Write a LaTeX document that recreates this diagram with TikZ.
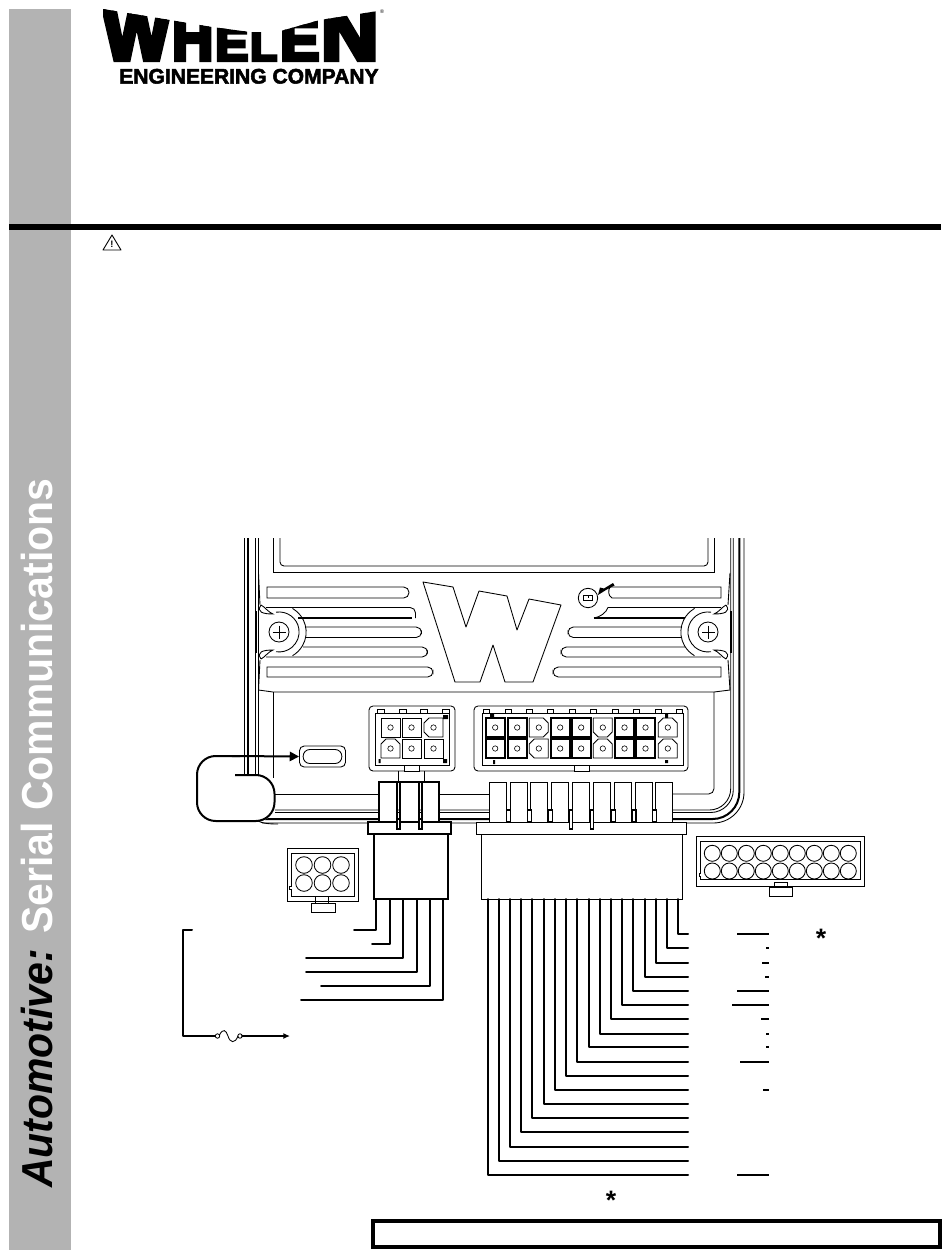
\documentclass[tikz,border=0pt]{standalone}
\usepackage{graphicx}
\usepackage{fontspec}
\usepackage{xcolor}
\usetikzlibrary{arrows.meta}
\newfontfamily\sidefont{Liberation Sans}
\newfontfamily\logofont[FakeBold=7]{Liberation Sans Bold}
\newfontfamily\logosubfont[FakeBold=2.5]{Liberation Sans Bold}
\definecolor{SideGrey}{HTML}{B3B3B3}
\tikzset{
  hair/.style = {line width = .65pt},
  heavy/.style = {line width = 1.5pt},
  lead/.style = {line width = 1.5pt, line cap = round, line join = round},
  logoletter/.style = {anchor = south west, inner sep = 0pt},
  pinhole/.style = {line width = .45pt}
}
\newcommand{\pincell}[7]{%
  \draw[line width = #7]
    (#1+#3,#2) -- (#1+19-#4,#2) -- (#1+19,#2+#4) -- (#1+19,#2+19-#5)
    -- (#1+19-#5,#2+19) -- (#1+#6,#2+19) -- (#1,#2+19-#6) -- (#1,#2+#3) -- cycle;
  \draw[pinhole] (#1+9.5,#2+9.5) circle (2.7);
}
\begin{document}
\begin{tikzpicture}[x = .75pt, y = -.75pt]
  \useasboundingbox (0,0) rectangle (950,1260);

  % side band and rules
  \fill[SideGrey] (9,9) rectangle (71,1250);
  \fill[black] (9,224) rectangle (941,230);
  \node[rotate = 90, anchor = base west, inner sep = 0pt] (sidetitle) at (52,1188)
    {\scalebox{.945}[1]{\sidefont\fontsize{32.5}{32}\selectfont\bfseries
     {\itshape Automotive:} \textcolor{white}{Serial Communications}}};

  % logo
  \begin{scope}
    \clip (103,9) -- (170,20) -- (212,27) -- (250,32) -- (277,32) -- (320,20)
      -- (378,11) -- (378,62) -- (103,62) -- cycle;
    \foreach \ch/\xa/\wa/\ha in {W/103/67/54, H/172/41/44, E/215/33/33, L/250/27/30,
        E/280/39/41, N/321/57/52}
      \node[logoletter] at (\xa,61)
        {\resizebox{\dimexpr\wa pt*3/4\relax}{\dimexpr\ha pt*3/4\relax}{\logofont\ch}};
  \end{scope}
  \node[inner sep = 0pt] (logoreg) at (382,12) {\sidefont\fontsize{4}{4}\selectfont\textregistered};
  \node[logoletter] (logosub) at (119,84)
    {\resizebox{194.5pt}{11pt}{\logosubfont ENGINEERING COMPANY}};

  % caution mark
  \draw[hair, line join = round] (112,235) -- (103,250) -- (121,250) -- cycle;
  \node[inner sep = 0pt] (caution) at (112,244) {\sidefont\bfseries\fontsize{7}{7}\selectfont !};

  % housing walls
  \draw[hair] (244,538) -- (244,775);
  \draw[heavy] (248,538) -- (248,775);
  \draw[hair] (255,538) -- (255,775);
  \draw[hair] (258.5,538) -- (258.5,775);
  \draw[hair] (273,538) -- (273,572) -- (714,572) -- (714,538);
  \draw[hair, rounded corners = 3pt] (280,538) -- (280,566) -- (708,566) -- (708,538);
  \draw[hair] (258.5,573) -- (260,605);
  \draw[hair] (730,573) -- (728,605);
  \draw[hair] (260,660) -- (258.5,690) -- (273,692) -- (714,692) -- (730,690) -- (728,660);
  \draw[hair] (273,692) -- (273,790);
  \draw[hair, rounded corners = 4pt] (714,692) -- (714,794) -- (673,794);
  \draw[hair] (273,794) -- (380,794) (439,794) -- (490,794);

  % lower rails, turning up into the right wall
  \draw[hair, rounded corners = 16pt] (730.7,538) -- (730.7,810) -- (275,810);
  \draw[hair, rounded corners = 17pt] (733.3,538) -- (733.3,812.5) -- (275,812.5);
  \draw[heavy, rounded corners = 20pt] (739.3,538) -- (739.3,819) -- (265,819);
  \draw[hair, rounded corners = 23pt] (744,538) -- (744,823) -- (262,823);

  % fins, left side
  \draw[hair] (267,598) -- (267,587) {[rounded corners = 4pt] -- (409,587) -- (409,598)} -- cycle;
  \draw[hair] (267,677) -- (267,667) {[rounded corners = 4pt] -- (433,667) -- (433,677)} -- cycle;
  \draw[hair, rounded corners = 4pt] (266,607.5) -- (415.5,607.5) -- (415.5,618);
  \draw[heavy] (298,618) -- (412,618);
  \draw[hair, rounded corners = 4pt] (306,627) -- (421.5,627) -- (421.5,637.5) -- (306,637.5);
  \draw[hair, rounded corners = 4pt] (303,647) -- (427.5,647) -- (427.5,657) -- (266,657);

  % fins, right side
  \draw[hair] (721,598) -- (721,587) -- (610,587) .. controls (608,590) and (608,596) .. (612,598) -- cycle;
  \draw[hair] (721,677) -- (721,667) {[rounded corners = 4pt] -- (553,667) -- (553,677)} -- cycle;
  \draw[hair] (721,607.5) -- (608,607.5) .. controls (606,613) and (600,617) .. (594,618);
  \draw[heavy] (594,618) -- (685,618);
  \draw[hair, rounded corners = 4pt] (681,627) -- (568,627) -- (568,637.5) -- (681,637.5);
  \draw[hair, rounded corners = 4pt] (685,647) -- (561,647) -- (561,657) -- (721,657);

  % screw bosses
  \foreach \cx/\sx in {279/1, 708/-1} {
    \begin{scope}[shift = {(\cx,632)}, xscale = \sx]
      \draw[hair] (10,0) arc (0:360:10);
      \draw[hair] (-6.5,0) -- (6.5,0) (0,-6.5) -- (0,6.5);
      \draw[hair] (13.5,-23.6) arc (-60:60:27.3);
      \draw[hair] (-3,-19.8) arc (-99:99:20);
      \draw[hair] (-18,-27) .. controls (-23,-20) and (-16,-18) .. (-6,-18)
        .. controls (-11,-20) and (-14,-25) .. (-18,-27);
      \draw[hair] (-18,27) .. controls (-23,20) and (-16,18) .. (-6,18)
        .. controls (-11,20) and (-14,25) .. (-18,27);
      \draw[heavy] (-23,-21) -- (-23,21);
    \end{scope}
  }

  % W emblem
  \draw[hair, line join = round] (423,582) -- (453,587) -- (466,627) -- (479,591)
    -- (507,596) -- (517,630) -- (529,599) -- (561,605) -- (533,682) -- (505,682)
    -- (493,645) -- (480,682) -- (455,682) -- cycle;

  % polarity mark and its pointer
  \draw[hair] (588,598) circle (9.7);
  \draw[line width = .9pt] (583.5,595.5) rectangle (592.5,600.5);
  \draw[line width = .7pt] (588,595.5) -- (588,598);
  \fill[black] (613,583) -- (614.5,585.5) -- (606,590) -- (598,595) -- (600,587.5) -- (604,588.5) -- cycle;

  % opening in the wall, its callout
  \fill[white, rounded corners = 12pt] (197,756) rectangle (274.5,821);
  \fill[white] (235,775) rectangle (274.5,800);
  \fill[white] (236,738) rectangle (262,775);
  \draw[hair] (244,738) -- (244,775);
  \draw[heavy] (248,738) -- (248,775);
  \draw[hair] (255,738) -- (255,775) (258.5,738) -- (258.5,775);
  \draw[hair] (273,738) -- (273,778);
  \draw[heavy, rounded corners = 14pt] (235,775) -- (274.5,775) -- (274.5,821) -- (197,821) -- (197,756) -- (240,756);
  \draw[hair] (258,821) .. controls (262,823) and (267,824) .. (278,824);
  \node[draw, hair, rounded corners = 3.5pt, minimum width = 34.5pt, minimum height = 15.75pt,
    inner sep = 0pt] (gland) at (322.5,756.5) {};
  \node[draw, hair, rounded corners = 5pt, minimum width = 29pt, minimum height = 10.5pt,
    inner sep = 0pt] (glandin) at (322.5,756.5) {};
  \coordinate (calloutstart) at (232,756);
  \draw[heavy, -{Triangle[length = 7pt, width = 7pt]}] (calloutstart) -- (gland.west);

  % socket, six ways
  \draw[hair, rounded corners = 3pt] (369,706) rectangle (455,771);
  \draw[hair] (375,713) rectangle (449,765);
  \foreach \tabx in {377,399,420,442}
    \draw[hair] (\tabx,713) -- (\tabx,709) -- (\tabx+7,709) -- (\tabx+7,713);
  \draw[hair, fill = white] (404,765) rectangle (419,771);
  \foreach \px/\py/\ta/\tb/\tc/\td in {381/718/0/0/0/0, 402/718/0/0/0/0, 424/718/5/0/0/5,
      381/739/5/5/0/0, 402/739/0/0/0/0, 424/739/0/0/0/0} {
    \pincell{\px}{\py}{\ta}{\tb}{\tc}{\td}{.65pt}
  }
  \fill[black] (443,715) rectangle (448,719) (378.5,759) rectangle (380.5,763) (443,759) rectangle (447,763);

  % socket, eighteen ways
  \draw[hair, rounded corners = 3pt] (474,706) rectangle (688,771);
  \draw[hair] (482,713) rectangle (683,765);
  \foreach \tabx in {483,505,526,547,569,590,612,633,655,676}
    \draw[hair] (\tabx,713) -- (\tabx,709) -- (\tabx+6,709) -- (\tabx+6,713);
  \draw[hair, fill = white] (574,765) rectangle (589,771);
  \foreach \px/\py/\ta/\tb/\tc/\td/\lw in {485.7/718/0/0/0/0/1.5pt, 507.7/718/0/0/0/0/1.5pt,
      529.3/718/0/5/5/0/.65pt, 550.7/718/0/0/0/0/1.5pt, 571.7/718/0/0/0/0/1.5pt,
      593.3/718/0/0/5/5/.65pt, 615/718/0/0/0/0/1.5pt, 636/718/0/0/0/0/1.5pt,
      658.3/718/5/5/0/0/.65pt,
      485.7/739/0/0/0/0/1.5pt, 507.7/739/0/0/0/0/1.5pt, 529.3/739/5/0/0/5/.65pt,
      550.7/739/0/0/0/0/1.5pt, 571.7/739/0/0/0/0/1.5pt, 593.3/739/5/5/0/0/.65pt,
      615/739/0/0/0/0/1.5pt, 636/739/0/0/0/0/1.5pt, 658.3/739/5/5/0/0/.65pt} {
    \pincell{\px}{\py}{\ta}{\tb}{\tc}{\td}{\lw}
  }
  \fill[black] (490,714) rectangle (494,718) (493,760) rectangle (495,764) (665,714) rectangle (668,718) (665,760) rectangle (668,763);

  % plug, six ways
  \draw[hair] (398,771) -- (398,782) (424,771) -- (424,782);
  \foreach \fx in {379,401,421}
    \fill[white] (\fx,782) rectangle (\fx+18,822);
  \draw[line width = 1pt] (379,822) -- (379,782) -- (397,782) (401,782) -- (419,782) (422,782) -- (439,782) -- (439,822);
  \draw[line width = 1pt, fill = white] (368,822) rectangle (451,834);
  \foreach \sx in {397,419} {
    \fill[white] (\sx,820) rectangle (\sx+3,829);
    \draw[line width = 1pt] (\sx,782) rectangle (\sx+3,829);
  }
  \draw[heavy] (374,834) rectangle (448,899);

  % plug, eighteen ways
  \foreach \fx in {489.3,510.7,530.7,551.7,572.3,593.3,614.3,635,655.7}
    \draw[hair, fill = white] (\fx,822) -- (\fx,782) -- (\fx+17,782) -- (\fx+17,822);
  \draw[hair, fill = white] (476,822) rectangle (686,834);
  \draw[hair, fill = white] (481,834) rectangle (682,899);
  \foreach \sx in {506.3,527.7,548.7,611.3,632,652.7}
    \draw[line width = .9pt, fill = white] (\sx,810) rectangle (\sx+4,822);
  \foreach \sx in {569.3,590.3}
    \draw[line width = .9pt, fill = white] (\sx,810) rectangle (\sx+3,829);

  % leads of the six way plug
  \foreach \wx/\wy/\wz in {376/930/354, 390/944/372, 403/958/306, 417/972/306, 430/986/321, 443/1000/301}
    \draw[lead] (\wx,899) -- (\wx,\wy) -- (\wz,\wy);

  % supply lead with fuse
  \draw[lead] (192,930) -- (183,930) -- (183,1036) -- (215,1036);
  \coordinate (fuseend) at (290,1036);
  \draw[lead, -{Latex[length = 5pt, width = 4.5pt]}] (242,1036) -- (fuseend);
  \draw[hair] (217.5,1036) circle (2.2);
  \draw[hair] (240,1036) circle (2.2);
  \draw[hair] (219.5,1035) .. controls (223,1028) and (226,1030) .. (228,1036)
    .. controls (230,1043) and (235,1044) .. (238,1036);

  % leads of the eighteen way plug
  \foreach \wx/\wy in {678/934, 667/948, 656/962.7, 645/977, 633/990.7, 622/1005, 611/1019,
      600/1034, 589/1047, 577/1062, 566/1076, 555/1090, 544/1104, 532/1118, 521/1132,
      510/1147, 499/1161, 488/1175}
    \draw[lead] (\wx,899) -- (\wx,\wy) -- (688,\wy);

  % short rules beside the leads
  \foreach \rx/\ry in {737/934, 766/948, 762/962.7, 765/977, 737/990.7, 732/1005, 761/1019,
      766/1034, 766/1047, 740/1062, 763/1090, 737/1175}
    \draw[line width = 1.5pt] (\rx,\ry) -- (769,\ry);

  % mating face, six ways
  \draw[hair] (287,848) rectangle (358,901);
  \draw[hair] (291,853) -- (354,853) -- (354,896) -- (291,896) -- (291,889) -- (289,889) -- (289,886) -- (291,886) -- cycle;
  \foreach \hx in {304,322.5,341}
    \foreach \hy in {865,883}
      \draw[hair] (\hx,\hy) circle (8.3);
  \draw[hair] (315,896) rectangle (328,903);
  \draw[hair] (311,903) rectangle (335,912);

  % mating face, eighteen ways
  \draw[hair] (696,836.5) rectangle (864,886.5);
  \draw[hair] (700.7,841.7) -- (860,841.7) -- (860,879) -- (700.7,879) -- (700.7,876) -- (699,876) -- (699,873) -- (700.7,873) -- cycle;
  \foreach \hi in {0,...,8} {
    \draw[hair] (712.3+17*\hi,853.3) circle (8);
    \draw[hair] (712.3+17*\hi,871) circle (8);
  }
  \draw[hair] (774,882) rectangle (787,887);
  \draw[hair] (769,887) rectangle (792,896);

  % asterisks and the foot box
  \node[inner sep = 0pt] (noteA) at (821,938) {\sidefont\bfseries\fontsize{20}{20}\selectfont *};
  \node[inner sep = 0pt] (noteB) at (611,1200) {\sidefont\bfseries\fontsize{20}{20}\selectfont *};
  \draw[line width = 3pt] (373,1221) rectangle (940,1247);
\end{tikzpicture}
\end{document}
